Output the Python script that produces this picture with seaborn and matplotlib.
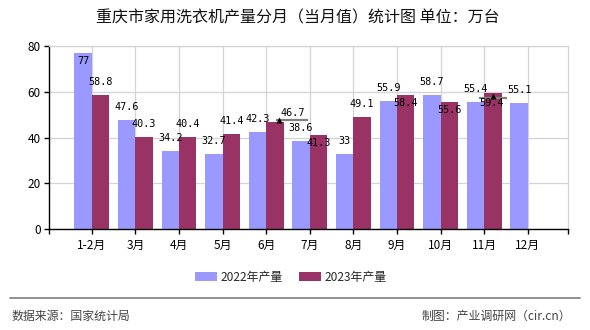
import numpy as np
import pandas as pd
import matplotlib
matplotlib.use("Agg")
import matplotlib.pyplot as plt
import matplotlib.transforms as mtransforms
from matplotlib.patches import Patch
from matplotlib.lines import Line2D
import seaborn as sns

# ---- data -------------------------------------------------------------
months = ["1-2月", "3月", "4月", "5月", "6月", "7月", "8月", "9月", "10月", "11月", "12月"]
output_2022 = [77, 47.6, 34.2, 32.7, 42.3, 38.6, 33, 55.9, 58.7, 55.4, 55.1]
output_2023 = [58.8, 40.3, 40.4, 41.4, 46.7, 41.3, 49.1, 58.4, 55.6, 59.4, np.nan]
series_names = ["2022年产量", "2023年产量"]
y_ticks = [0, 20, 40, 60, 80]

title = "重庆市家用洗衣机产量分月（当月值）统计图 单位：万台"
source_text = "数据来源：国家统计局"
credit_text = "制图：产业调研网（cir.cn）"

# ---- styling ----------------------------------------------------------
colors = ["#9999ff", "#993366"]
grid_color = "#d4d4d4"
label_font = "DejaVu Sans Mono"

# label placement: default is above the bar; some sit just inside the top
inside_labels = {(0, 0), (1, 5), (1, 7), (1, 8)}
callout_labels = {(1, 4): "right", (1, 9): "below"}

df = pd.DataFrame({
    "月份": months * 2,
    "产量": output_2022 + output_2023,
    "系列": [series_names[0]] * len(months) + [series_names[1]] * len(months),
})

sns.set_theme(style="white")
plt.rcParams["font.family"] = ["Noto Sans CJK SC", "DejaVu Sans"]
plt.rcParams["axes.unicode_minus"] = False

W, H = 590, 330
fig = plt.figure(figsize=(W / 100, H / 100), dpi=100)
ax = fig.add_axes([49 / W, 1 - 229.3 / H, (568 - 49) / W, (229.3 - 46) / H])

sns.barplot(data=df, x="月份", y="产量", hue="系列", order=months,
            hue_order=series_names, palette=colors, width=0.8,
            saturation=1, errorbar=None, legend=False, ax=ax, zorder=2,
            linewidth=0)

ax.set_xlabel("")
ax.set_ylabel("")
ax.set_xlim(-0.98, len(months) - 0.08)
ax.set_ylim(y_ticks[0], y_ticks[-1])
ax.set_yticks(y_ticks)
ax.set_xticks(range(len(months)))
ax.set_xticklabels(months)
ax.set_xticks([-0.98, len(months) - 0.08], minor=True)
ax.set_axisbelow(True)

ax.grid(True, which="major", axis="both", color=grid_color, lw=0.9)
for side in ("top", "right"):
    ax.spines[side].set_color(grid_color)
    ax.spines[side].set_linewidth(0.9)
for side in ("left", "bottom"):
    ax.spines[side].set_color("black")
    ax.spines[side].set_linewidth(1.0)

ax.tick_params(axis="both", which="both", direction="out", length=3.6,
               width=1, color="black", labelsize=8.5, labelcolor="black")
ax.tick_params(axis="x", which="both", bottom=True, pad=3)
ax.tick_params(axis="y", which="major", left=True, pad=2.5)

# ---- value labels -----------------------------------------------------
px = 0.72  # points per pixel at 100 dpi
for s, container in enumerate(ax.containers):
    for bar in container:
        h = bar.get_height()
        if h is None or np.isnan(h):
            continue
        cx = bar.get_x() + bar.get_width() / 2
        i = int(round(cx))
        txt = f"{h:g}"
        kw = dict(fontfamily=label_font, fontsize=7.3, color="black",
                  textcoords="offset points", va="center", zorder=6)
        mode = callout_labels.get((s, i))
        if mode == "right":
            lift = mtransforms.offset_copy(ax.transData, fig, x=0, y=2, units="dots")
            ax.plot([cx + 0.02, cx + 0.75], [h, h], color="#808080", lw=1.6,
                    transform=lift, zorder=5, solid_capstyle="butt")
            tri = mtransforms.offset_copy(ax.transData, fig, x=4, y=2, units="dots")
            ax.plot([cx], [h], marker="^", ms=4.5, color="black", mec="none",
                    transform=tri, zorder=6)
            ax.annotate(txt, (cx, h), xytext=(5.6 * px, 9.3 * px), ha="left", **kw)
        elif mode == "below":
            drop = mtransforms.offset_copy(ax.transData, fig, x=0, y=-5, units="dots")
            ax.plot([cx - 0.32, cx + 0.32], [h, h], color="#808080", lw=1.6,
                    transform=drop, zorder=5, solid_capstyle="butt")
            tri = mtransforms.offset_copy(ax.transData, fig, x=0, y=-3, units="dots")
            ax.plot([cx], [h], marker="^", ms=4.5, color="black", mec="none",
                    transform=tri, zorder=6)
            ax.annotate(txt, (cx, h), xytext=(-1.5 * px, -10.3 * px), ha="center", **kw)
        elif (s, i) in inside_labels:
            ax.annotate(txt, (cx, h), xytext=(0, -8 * px), ha="center", **kw)
        else:
            ax.annotate(txt, (cx, h), xytext=(0, 13 * px), ha="center", **kw)

# ---- title, legend, footer -------------------------------------------
fig.text(297.5 / W, 1 - 18 / H, title, ha="center", va="center",
         fontsize=11.5, fontweight="medium", color="#111111")

handles = [Patch(facecolor=c, edgecolor="none", label=n)
           for c, n in zip(colors, series_names)]
fig.legend(handles=handles, loc="center", bbox_to_anchor=(291 / W, 1 - 277 / H),
           ncol=2, frameon=False, fontsize=8.6, handlelength=1.83,
           handleheight=0.83, handletextpad=0.33, columnspacing=1.33)

fig.add_artist(Line2D([10 / W, 580 / W], [1 - 298 / H, 1 - 298 / H],
                      color="#888888", lw=1.3))
fig.text(12 / W, 1 - 316 / H, source_text, ha="left", va="center",
         fontsize=8.6, color="#444444")
fig.text(571 / W, 1 - 316 / H, credit_text, ha="right", va="center",
         fontsize=8.6, color="#444444")

fig.savefig("out.png", dpi=100)
